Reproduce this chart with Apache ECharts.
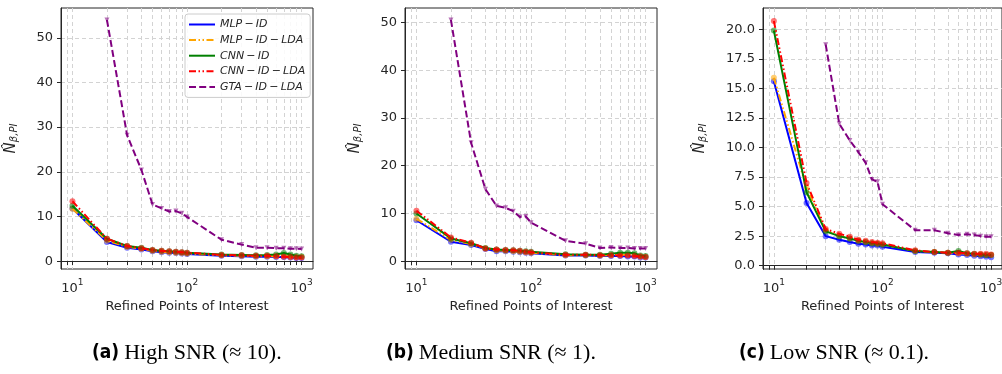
<!DOCTYPE html>
<html>
<head>
<meta charset="utf-8">
<script src="https://cdn.jsdelivr.net/npm/echarts@6/dist/echarts.min.js"></script>
<style>
    html, body { margin: 0; padding: 0; background: #fff; }
    #chart { width: 1002px; height: 374px; }
</style>
</head>
<body>
<div id="chart"></div>
<script>
// refined points of interest (x axis, log scale)
var points = [10, 20, 30, 40, 50, 60, 70, 80, 90, 100, 200, 300, 400, 500, 600, 700, 800, 900, 1000];
var gridTicks = [8, 9, 10, 20, 30, 40, 50, 60, 70, 80, 90, 100, 200, 300, 400, 500, 600, 700, 800, 900, 1000];
var decadeTicks = [10, 100, 1000];

var seriesNames = ["MLP\u2009−\u2009ID", "MLP\u2009−\u2009ID\u2009−\u2009LDA", "CNN\u2009−\u2009ID", "CNN\u2009−\u2009ID\u2009−\u2009LDA", "GTA\u2009−\u2009ID\u2009−\u2009LDA"];

// (a) high SNR
var mlpA    = [11.8, 4.3, 3.0, 2.6, 2.2, 2.0, 1.9, 1.8, 1.7, 1.6, 1.2, 1.1, 1.0, 1.0, 0.9, 0.9, 0.8, 0.7, 0.7];
var mlpLdaA = [11.7, 4.6, 3.2, 2.8, 2.3, 2.1, 2.0, 1.9, 1.8, 1.7, 1.3, 1.2, 1.1, 1.1, 1.1, 1.2, 1.0, 0.9, 0.9];
var cnnA    = [12.4, 5.0, 3.4, 3.0, 2.5, 2.3, 2.2, 2.1, 2.0, 1.9, 1.5, 1.4, 1.3, 1.4, 1.5, 1.8, 1.5, 1.2, 1.1];
var cnnLdaA = [13.4, 5.0, 3.4, 2.9, 2.5, 2.3, 2.2, 2.1, 2.0, 1.9, 1.4, 1.3, 1.2, 1.2, 1.1, 1.0, 0.9, 0.8, 0.8];
var gtaA    = [null, 54.0, 28.2, 20.4, 12.7, 11.8, 11.1, 11.2, 10.7, 9.9, 4.8, 3.7, 3.0, 3.0, 2.9, 2.9, 2.8, 2.8, 2.7];

// (b) medium SNR
var mlpB    = [8.6, 4.1, 3.4, 2.6, 2.1, 2.1, 2.0, 1.9, 1.8, 1.7, 1.2, 1.2, 1.1, 1.1, 1.1, 1.0, 1.0, 0.8, 0.8];
var mlpLdaB = [8.9, 4.5, 3.6, 2.7, 2.3, 2.2, 2.1, 2.0, 1.9, 1.8, 1.3, 1.3, 1.2, 1.3, 1.4, 1.4, 1.3, 1.0, 0.9];
var cnnB    = [10.0, 4.8, 3.8, 2.8, 2.5, 2.4, 2.3, 2.2, 2.1, 2.0, 1.5, 1.4, 1.4, 1.6, 1.8, 1.8, 1.7, 1.2, 1.1];
var cnnLdaB = [10.6, 5.0, 3.9, 2.7, 2.5, 2.4, 2.3, 2.2, 2.0, 1.9, 1.4, 1.4, 1.3, 1.3, 1.2, 1.2, 1.1, 1.0, 0.9];
var gtaB    = [null, 50.5, 24.8, 15.1, 11.6, 11.2, 10.5, 9.3, 9.4, 8.1, 4.3, 3.7, 2.8, 2.9, 2.8, 2.8, 2.7, 2.7, 2.7];

// (c) low SNR
var mlpC    = [15.6, 5.3, 2.5, 2.2, 2.0, 1.85, 1.8, 1.7, 1.7, 1.6, 1.15, 1.1, 1.05, 0.95, 0.9, 0.85, 0.8, 0.75, 0.72];
var mlpLdaC = [15.9, 6.6, 3.0, 2.5, 2.3, 2.1, 2.0, 1.9, 1.85, 1.8, 1.25, 1.15, 1.1, 1.05, 1.0, 0.95, 0.95, 0.9, 0.9];
var cnnC    = [19.9, 6.2, 2.9, 2.5, 2.3, 2.1, 2.0, 1.9, 1.85, 1.8, 1.25, 1.15, 1.1, 1.25, 1.05, 1.0, 0.95, 0.9, 0.9];
var cnnLdaC = [20.7, 7.0, 3.1, 2.7, 2.45, 2.2, 2.1, 2.0, 1.95, 1.9, 1.3, 1.15, 1.1, 1.1, 1.05, 1.0, 1.0, 1.0, 0.95];
var gtaC    = [null, null, 18.7, 12.0, 10.6, 9.6, 8.7, 7.3, 7.1, 5.2, 3.0, 3.0, 2.75, 2.6, 2.65, 2.6, 2.5, 2.45, 2.45];

var yTicksA = [0, 10, 20, 30, 40, 50];
var yTicksB = [0, 10, 20, 30, 40, 50];
var yTicksC = [0, 2.5, 5, 7.5, 10, 12.5, 15, 17.5, 20];

var captions = [
    ["(a)", "High SNR (≈ 10)."],
    ["(b)", "Medium SNR (≈ 1)."],
    ["(c)", "Low SNR (≈ 0.1)."]
];

var panels = [
    {left: 61, width: 252, ymin: -1.76, ymax: 56.66, ticks: yTicksA, digits: 0, nameGap: 42, capLeft: 87, data: [mlpA, mlpLdaA, cnnA, cnnLdaA, gtaA]},
    {left: 405, width: 252, ymin: -1.6, ymax: 53.0, ticks: yTicksB, digits: 0, nameGap: 42, capLeft: 381, data: [mlpB, mlpLdaB, cnnB, cnnLdaB, gtaB]},
    {left: 763, width: 239, ymin: -0.28, ymax: 21.8, ticks: yTicksC, digits: 1, nameGap: 55, capLeft: 734, data: [mlpC, mlpLdaC, cnnC, cnnLdaC, gtaC]}
];

var colors = ["#0000ff", "#ffa500", "#008000", "#ff0000", "#800080"];
var dashes = ["solid", [7, 2.5, 1.5, 2.5, 1.5, 2.5], "solid", [7, 2.5, 1.5, 2.5, 1.5, 2.5], [7, 3.2]];
var font = "'DejaVu Sans', sans-serif";
var ink = "#262626";

function pairs(values) {
    return points.map(function (x, i) {
        return [x, values[i]];
    });
}

var grids = [], xAxes = [], yAxes = [], series = [], titles = [];

panels.forEach(function (p, k) {
    grids.push({
        left: p.left, top: 8, width: p.width, height: 261,
        show: true, borderColor: ink, borderWidth: 1,
        containLabel: false, outerBoundsMode: "none"
    });
    xAxes.push({
        type: "log", logBase: 10, gridIndex: k,
        min: Math.pow(10, 0.9), max: Math.pow(10, 3.1),
        name: "Refined Points of Interest", nameLocation: "middle", nameGap: 31,
        nameTextStyle: {fontFamily: font, fontSize: 13, color: ink},
        axisLine: {show: true, lineStyle: {color: ink, width: 1}},
        axisTick: {show: true, length: 4, customValues: gridTicks, lineStyle: {color: ink}},
        axisLabel: {
            customValues: decadeTicks, margin: 9,
            formatter: function (v) {
                var e = Math.round(Math.log(v) / Math.LN10);
                return "{b|10}{s|" + e + "}";
            },
            rich: {
                b: {fontFamily: font, fontSize: 13, color: ink, lineHeight: 17, verticalAlign: "bottom"},
                s: {fontFamily: font, fontSize: 9, color: ink, lineHeight: 17, verticalAlign: "top"}
            }
        },
        splitLine: {show: true, lineStyle: {color: "#d3d3d3", type: [4, 3], width: 1}}
    });
    yAxes.push({
        type: "value", gridIndex: k, min: p.ymin, max: p.ymax,
        name: "{n|N̂}{s|β,PI}", nameLocation: "middle", nameRotate: 90,
        nameGap: p.nameGap,
        nameTextStyle: {
            rich: {
                n: {fontFamily: font, fontStyle: "italic", fontSize: 15, color: ink, lineHeight: 20, verticalAlign: "bottom"},
                s: {fontFamily: font, fontStyle: "italic", fontSize: 10, color: ink, lineHeight: 20, verticalAlign: "bottom"}
            }
        },
        axisLine: {show: true, lineStyle: {color: ink, width: 1}},
        axisTick: {show: true, length: 4, customValues: p.ticks, lineStyle: {color: ink}},
        axisLabel: {
            customValues: p.ticks, margin: 8,
            fontFamily: font, fontSize: 13, color: ink,
            formatter: function (v) {
                return v.toFixed(p.digits);
            }
        },
        splitLine: {show: true, lineStyle: {color: "#d3d3d3", type: [4, 3], width: 1}}
    });
    p.data.forEach(function (values, i) {
        var gta = i === 4;
        series.push({
            name: seriesNames[i], type: "line", xAxisIndex: k, yAxisIndex: k,
            data: pairs(values),
            symbol: gta ? "triangle" : "circle",
            symbolRotate: gta ? 180 : 0,
            symbolSize: gta ? 5 : 6,
            showSymbol: true,
            itemStyle: {color: colors[i], opacity: 0.55},
            lineStyle: {color: colors[i], width: 2, type: dashes[i]},
            z: 2 + i,
            animation: false
        });
    });
    titles.push({
        text: "{b|" + captions[k][0] + "} {r|" + captions[k][1] + "}",
        left: p.capLeft, top: 337,
        textStyle: {
            fontWeight: "normal",
            rich: {
                b: {fontFamily: "'DejaVu Sans Condensed', 'DejaVu Sans', sans-serif", fontWeight: "bold", fontSize: 19, color: "#000"},
                r: {fontFamily: "'Liberation Serif', serif", fontWeight: "normal", fontSize: 22, color: "#000"}
            }
        }
    });
});

var chart = echarts.init(document.getElementById("chart"), null, {renderer: "canvas"});
chart.setOption({
    animation: false,
    backgroundColor: "#fff",
    title: titles,
    grid: grids,
    xAxis: xAxes,
    yAxis: yAxes,
    legend: {
        data: seriesNames,
        orient: "vertical",
        left: 185, top: 14,
        itemWidth: 26, itemHeight: 12, itemGap: 4.6,
        padding: [5, 5, 5, 3],
        backgroundColor: "rgba(255,255,255,0.85)",
        borderColor: "#cccccc", borderWidth: 1, borderRadius: 3,
        itemStyle: {opacity: 0},
        textStyle: {fontFamily: font, fontStyle: "italic", fontSize: 11, color: ink},
        selectedMode: false
    },
    series: series
});
</script>
</body>
</html>
